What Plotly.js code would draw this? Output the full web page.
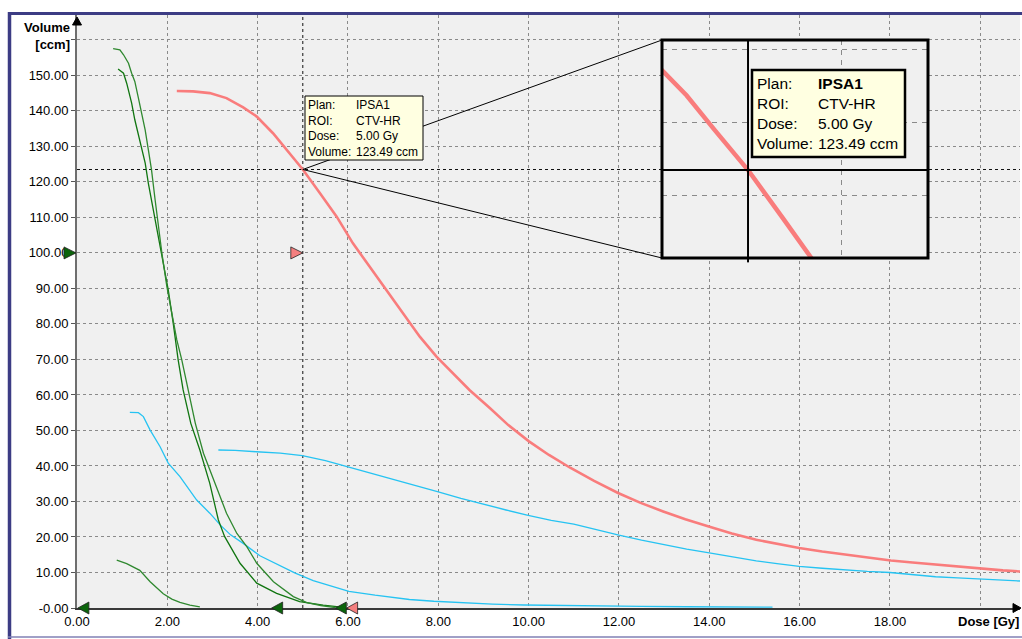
<!DOCTYPE html>
<html><head><meta charset="utf-8">
<script src="https://cdn.plot.ly/plotly-3.0.1.min.js"></script>
<style>html,body{margin:0;padding:0;background:#fff;}#chart{width:1022px;height:639px;}</style>
</head><body><div id="chart"></div>
<script>
// ---------- data ----------
const doseRed = [2.21, 2.57, 2.94, 3.31, 3.68, 3.98, 4.34, 4.64, 5.00, 5.38, 5.75, 6.11, 6.48, 6.85, 7.22, 7.59, 7.96, 8.33, 8.69, 9.14, 9.55, 10.0, 10.45, 10.92, 11.45, 11.98, 12.48, 12.98, 13.47, 13.97, 14.5, 15.04, 15.5, 15.99, 16.5, 17.02, 17.5, 18.02, 18.5, 19.01, 19.5, 20.0, 20.5, 20.88];
const volRed  = [145.6, 145.5, 145.0, 143.6, 141.0, 138.4, 133.7, 129.0, 123.49, 116.8, 110.2, 102.7, 96.1, 89.6, 83.0, 76.4, 70.8, 66.1, 61.4, 56.3, 51.5, 47.0, 43.1, 39.5, 35.8, 32.4, 29.6, 27.2, 25.0, 23.0, 21.0, 19.2, 18.0, 16.9, 15.9, 15.0, 14.2, 13.4, 12.8, 12.2, 11.6, 11.0, 10.6, 10.3];

const doseCyanA = [3.13, 3.5, 3.97, 4.5, 4.99, 5.5, 5.98, 6.45, 6.94, 7.45, 7.98, 8.5, 9.06, 9.5, 9.99, 10.5, 11.0, 11.5, 12.0, 12.5, 13.0, 13.5, 14.0, 14.5, 15.04, 15.5, 15.99, 16.5, 17.02, 17.5, 18.0, 18.5, 19.01, 19.5, 20.0, 20.5, 20.88];
const volCyanA  = [44.5, 44.4, 44.0, 43.6, 42.9, 41.5, 39.8, 38.2, 36.5, 34.6, 32.8, 30.9, 29.0, 27.6, 26.1, 24.7, 23.6, 22.0, 20.5, 19.1, 17.8, 16.6, 15.5, 14.4, 13.3, 12.5, 11.7, 11.2, 10.7, 10.3, 10.0, 9.4, 8.8, 8.5, 8.2, 7.9, 7.6];

const doseCyanB = [1.17, 1.36, 1.47, 1.62, 1.84, 2.02, 2.28, 2.50, 2.65, 2.94, 3.17, 3.40, 3.68, 4.05, 4.40, 4.82, 5.23, 5.60, 6.02, 6.60, 7.36, 7.90, 8.47, 9.2, 9.9, 10.6, 11.4, 12.5, 13.5, 14.5, 15.4];
const volCyanB  = [55.1, 55.0, 53.9, 50.1, 45.4, 40.8, 37.0, 33.2, 30.4, 26.7, 23.4, 20.6, 18.2, 14.7, 12.5, 9.9, 7.7, 6.2, 4.7, 3.6, 2.4, 1.9, 1.5, 1.1, 0.85, 0.7, 0.56, 0.45, 0.35, 0.3, 0.25];

const doseGreen1 = [0.80, 0.95, 1.03, 1.14, 1.21, 1.28, 1.36, 1.43, 1.51, 1.58, 1.65, 1.73, 1.80, 1.88, 1.99, 2.10, 2.21, 2.32, 2.46, 2.62, 2.80, 3.02, 3.31, 3.54, 3.76, 3.98, 4.35, 4.79, 5.09, 5.40, 5.72];
const volGreen1  = [157.5, 157.2, 155.8, 153.4, 150.6, 148.3, 143.6, 139.8, 134.6, 129.0, 123.4, 114.9, 107.4, 99.9, 90.5, 83.0, 75.5, 69.9, 61.4, 52.0, 43.6, 36.1, 26.7, 21.0, 17.3, 12.6, 7.4, 3.2, 1.5, 0.7, 0.1];

const doseGreen2 = [0.91, 1.03, 1.10, 1.21, 1.28, 1.39, 1.51, 1.58, 1.69, 1.80, 1.91, 2.02, 2.13, 2.24, 2.35, 2.52, 2.72, 2.94, 3.13, 3.27, 3.61, 3.98, 4.42, 4.93, 5.45, 5.90];
const volGreen2  = [151.8, 150.6, 147.8, 142.2, 137.5, 131.8, 125.3, 119.6, 112.1, 105.5, 98.0, 89.6, 80.2, 69.9, 61.4, 52.0, 44.5, 35.1, 24.8, 20.1, 12.6, 7.0, 4.1, 1.8, 0.8, 0.2];

const doseGreen3 = [0.88, 1.10, 1.39, 1.62, 1.91, 2.10, 2.28, 2.50, 2.72];
const volGreen3  = [13.5, 12.5, 10.6, 7.4, 4.0, 2.5, 1.6, 0.8, 0.3];

// probe / tooltip
const planName = ["IPSA1"];
const roiName = ["CTV-HR"];
const markerDose = [5.00];
const markerVolume = [123.49];

// axis markers (triangles)
const sideMarkerDose = [0.0, 5.0];
const sideMarkerVol = [100, 100];
const sideMarkerColor = ["#0b640b", "#f47f7f"];
const baseMarkerDose = [0.02, 4.31, 5.72, 5.97];
const baseMarkerColor = ["#0b640b", "#0b640b", "#0b640b", "#f47f7f"];

// ticks
const xTickVals = [0, 2, 4, 6, 8, 10, 12, 14, 16, 18, 20];
const xTickText = ["0.00", "2.00", "4.00", "6.00", "8.00", "10.00", "12.00", "14.00", "16.00", "18.00", ""];
const yTickVals = [0, 10, 20, 30, 40, 50, 60, 70, 80, 90, 100, 110, 120, 130, 140, 150, 160];
const yTickText = ["-0.00", "10.00", "20.00", "30.00", "40.00", "50.00", "60.00", "70.00", "80.00", "90.00", "100.00", "110.00", "120.00", "130.00", "140.00", "150.00", ""];

// ---------- layout helpers ----------
const W = 1022, H = 639;
const M = {l: 77, r: 2, t: 15, b: 31};
const PW = W - M.l - M.r, PH = H - M.t - M.b;
const pxX = p => (p - M.l) / PW;
const pxY = p => (H - M.b - p) / PH;

const xRange = [0, 20.88];
const yRange = [0, 167];
const insetDomX = [pxX(662), pxX(928)];
const insetDomY = [pxY(258), pxY(40)];
const insetXRange = [4.075, 6.935];
const insetYRange = [111.44, 141.3];

const FONT = "Liberation Sans, Arial, sans-serif";
const RED = "#f97c7c", CYAN = "#26c3f2", GREEN = "#107510", GREEN_L = "#2f882f";

const traces = [
  {x: doseCyanB, y: volCyanB, mode: "lines", line: {color: CYAN, width: 1.3}},
  {x: doseCyanA, y: volCyanA, mode: "lines", line: {color: CYAN, width: 1.3}},
  {x: doseGreen3, y: volGreen3, mode: "lines", line: {color: GREEN_L, width: 1.3}},
  {x: doseGreen2, y: volGreen2, mode: "lines", line: {color: GREEN, width: 1.3}},
  {x: doseGreen1, y: volGreen1, mode: "lines", line: {color: GREEN_L, width: 1.3}},
  {x: doseRed, y: volRed, mode: "lines", line: {color: RED, width: 2.6}},
  {x: doseRed, y: volRed, mode: "lines", line: {color: RED, width: 4.5}, xaxis: "x2", yaxis: "y2"}
];

const gridDash = "3px,3px";
const gridColor = "#8a8a8a";

// probe point in paper coords (from the axis ranges)
const probePX = (markerDose[0] - xRange[0]) / (xRange[1] - xRange[0]);
const probePY = (markerVolume[0] - yRange[0]) / (yRange[1] - yRange[0]);

const shapes = [
  // main crosshair
  {type: "line", xref: "x", yref: "paper", x0: markerDose[0], x1: markerDose[0], y0: 0, y1: 1, layer: "between", line: {color: "#111", width: 1, dash: "3px,3px"}},
  {type: "line", xref: "paper", yref: "y", x0: 0, x1: 1, y0: markerVolume[0], y1: markerVolume[0], layer: "between", line: {color: "#111", width: 1, dash: "3px,3px"}},
  // inset crosshair
  {type: "line", xref: "x2", yref: "y2 domain", x0: markerDose[0], x1: markerDose[0], y0: -0.02, y1: 1, line: {color: "#000", width: 2}},
  {type: "line", xref: "x2 domain", yref: "y2", x0: 0, x1: 1, y0: markerVolume[0], y1: markerVolume[0], line: {color: "#000", width: 2}},
  // inset frame
  {type: "rect", xref: "x2 domain", yref: "y2 domain", x0: 0, x1: 1, y0: 0, y1: 1, line: {color: "#000", width: 3}},
  // connector lines
  {type: "line", xref: "paper", yref: "paper", x0: probePX, y0: probePY, x1: insetDomX[0], y1: insetDomY[1], line: {color: "#000", width: 1}},
  {type: "line", xref: "paper", yref: "paper", x0: probePX, y0: probePY, x1: insetDomX[0], y1: insetDomY[0], line: {color: "#000", width: 1}},
  // tooltip boxes
  {type: "rect", xref: "paper", yref: "paper", x0: pxX(305), x1: pxX(423), y0: pxY(160), y1: pxY(96), fillcolor: "#ffffe1", line: {color: "#000", width: 1}},
  {type: "rect", xref: "paper", yref: "paper", x0: pxX(752), x1: pxX(905), y0: pxY(157), y1: pxY(70), fillcolor: "#ffffe1", line: {color: "#000", width: 2.5}},
  // outer frame
  {type: "line", xref: "paper", yref: "paper", x0: pxX(9.5), x1: pxX(9.5), y0: pxY(12), y1: pxY(639), line: {color: "#3c3c84", width: 3.5}},
  {type: "line", xref: "paper", yref: "paper", x0: pxX(8), x1: pxX(1022), y0: pxY(13.5), y1: pxY(13.5), line: {color: "#3c3c84", width: 3}},
  {type: "line", xref: "paper", yref: "paper", x0: pxX(8), x1: pxX(1022), y0: pxY(637), y1: pxY(637), line: {color: "#8080b4", width: 1.5}},
  // axis arrows
  {type: "path", xref: "paper", yref: "paper", xsizemode: "pixel", ysizemode: "pixel", xanchor: 0, yanchor: 1, path: "M-4.5,-10L0,-2L4.5,-10Z", fillcolor: "#000", line: {color: "#000", width: 1}},
  {type: "path", xref: "paper", yref: "paper", xsizemode: "pixel", ysizemode: "pixel", xanchor: 1, yanchor: 0, path: "M-7,4.5L1,0L-7,-4.5Z", fillcolor: "#000", line: {color: "#000", width: 1}}
];

// side (right-pointing) markers, tip at the value
sideMarkerDose.forEach((d, i) => {
  const atAxis = d === xRange[0];
  shapes.push({
    type: "path",
    xref: atAxis ? "paper" : "x",
    yref: "y",
    xsizemode: "pixel", ysizemode: "pixel",
    xanchor: atAxis ? (d - xRange[0]) / (xRange[1] - xRange[0]) - 1 / PW : d,
    yanchor: sideMarkerVol[i],
    path: "M-12,6L0,0L-12,-6Z",
    fillcolor: sideMarkerColor[i], line: {color: "#222", width: 0.8}
  });
});
// base (left-pointing) markers on the dose axis
baseMarkerDose.forEach((d, i) => {
  shapes.push({
    type: "path", xref: "x", yref: "paper",
    xsizemode: "pixel", ysizemode: "pixel",
    xanchor: d, yanchor: 0,
    path: "M11,6L0,0L11,-6Z",
    fillcolor: baseMarkerColor[i], line: {color: "#222", width: 0.8}
  });
});

const ann = (x, y, text, size, extra) => Object.assign({
  xref: "paper", yref: "paper", x: x, y: y, xanchor: "left", yanchor: "top",
  text: text, showarrow: false, align: "left",
  font: {family: FONT, size: size, color: "#000"}, borderpad: 0
}, extra || {});

const annotations = [
  ann(pxX(307), pxY(97), "Plan:<br>ROI:<br>Dose:<br>Volume:", 12),
  ann(pxX(355), pxY(97), planName[0] + "<br>" + roiName[0] + "<br>" + markerDose[0].toFixed(2) + " Gy<br>" + markerVolume[0].toFixed(2) + " ccm", 12),
  ann(pxX(756), pxY(74), "Plan:<br>ROI:<br>Dose:<br>Volume:", 15.5),
  ann(pxX(817), pxY(74), "<b>" + planName[0] + "</b><br>" + roiName[0] + "<br>" + markerDose[0].toFixed(2) + " Gy<br>" + markerVolume[0].toFixed(2) + " ccm", 15.5),
  ann(pxX(71), pxY(19), "<b>Volume</b><br><b>[ccm]</b>", 13, {xanchor: "right", align: "right"}),
  ann(pxX(957), pxY(613), "<b>Dose [Gy]</b>", 13)
];

const layout = {
  width: W, height: H,
  margin: M,
  paper_bgcolor: "#ffffff",
  plot_bgcolor: "#f0f0f0",
  showlegend: false,
  hovermode: false,
  font: {family: FONT, size: 13, color: "#000"},
  xaxis: {
    domain: [0, 1], range: xRange, anchor: "y",
    tickmode: "array", tickvals: xTickVals, ticktext: xTickText,
    ticks: "", showgrid: true, gridcolor: gridColor, griddash: gridDash, gridwidth: 1,
    zeroline: false, showline: true, linecolor: "#3a3a3a", linewidth: 2,
    tickfont: {family: FONT, size: 13, color: "#000"}
  },
  yaxis: {
    domain: [0, 1], range: yRange, anchor: "x",
    tickmode: "array", tickvals: yTickVals, ticktext: yTickText,
    ticks: "outside", ticklen: 4, tickcolor: "#555", tickwidth: 1,
    showgrid: true, gridcolor: gridColor, griddash: gridDash, gridwidth: 1,
    zeroline: false, showline: true, linecolor: "#6e6e6e", linewidth: 2,
    tickfont: {family: FONT, size: 13, color: "#000"}
  },
  xaxis2: {
    domain: insetDomX, range: insetXRange, anchor: "y2",
    tickmode: "array", tickvals: xTickVals, showticklabels: false, ticks: "",
    showgrid: true, gridcolor: gridColor, griddash: "5px,5px", gridwidth: 1,
    zeroline: false, showline: false
  },
  yaxis2: {
    domain: insetDomY, range: insetYRange, anchor: "x2",
    tickmode: "array", tickvals: yTickVals, showticklabels: false, ticks: "",
    showgrid: true, gridcolor: gridColor, griddash: "5px,5px", gridwidth: 1,
    zeroline: false, showline: false
  },
  shapes: shapes,
  annotations: annotations
};

Plotly.newPlot("chart", traces, layout, {displayModeBar: false, staticPlot: true});
</script></body></html>
